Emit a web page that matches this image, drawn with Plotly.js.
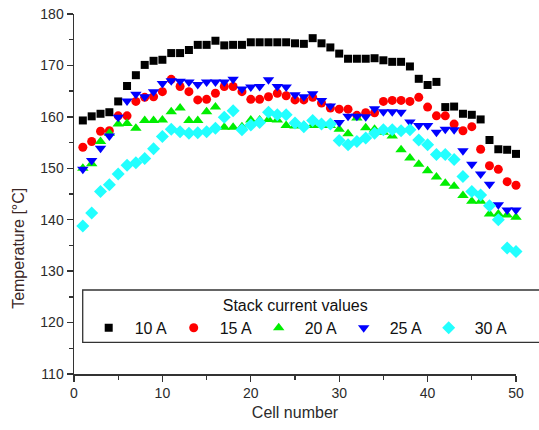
<!DOCTYPE html>
<html>
<head>
<meta charset="utf-8">
<script src="https://cdn.plot.ly/plotly-3.0.1.min.js"></script>
<style>
  html, body { margin: 0; padding: 0; background: #fff; }
  #chart { width: 539px; height: 430px; }
</style>
</head>
<body>
<div id="chart"></div>
<script>
// Cell temperatures along the stack for five current settings
const cells = Array.from({length: 50}, (_, i) => i + 1);

const seriesNames = ['10 A', '15 A', '20 A', '25 A', '30 A'];

const temp10A = [159.3, 160.1, 160.6, 160.9, 163.0, 166.0, 168.1, 170.1, 170.9, 171.1,
                 172.4, 172.4, 173.0, 174.0, 174.0, 174.8, 173.9, 174.0, 174.0, 174.5,
                 174.5, 174.5, 174.5, 174.5, 174.3, 174.2, 175.3, 174.3, 173.5, 172.3,
                 171.3, 171.3, 171.3, 171.4, 171.0, 170.7, 170.7, 169.8, 167.4, 166.2,
                 166.8, 161.9, 162.0, 160.6, 160.4, 159.5, 155.5, 153.7, 153.6, 152.8];

const temp15A = [154.1, 155.2, 157.2, 157.3, 160.2, 160.2, 163.0, 163.8, 163.9, 164.9,
                 167.3, 165.9, 164.9, 163.3, 163.4, 164.6, 165.9, 165.9, 164.9, 163.4,
                 163.4, 163.9, 164.6, 164.1, 163.3, 163.3, 163.8, 162.7, 161.7, 161.5,
                 161.5, 160.3, 160.8, 160.8, 163.0, 163.2, 163.2, 163.0, 163.8, 161.9,
                 160.2, 160.2, 158.6, 157.3, 158.1, 153.7, 150.5, 149.8, 147.4, 146.7];

const temp20A = [150.0, 150.9, 155.2, 156.8, 158.6, 158.7, 157.8, 159.3, 159.3, 159.4,
                 161.0, 161.7, 159.3, 159.3, 161.0, 161.9, 158.0, 158.0, 158.1, 159.4,
                 159.4, 159.5, 159.4, 158.3, 158.2, 158.3, 158.3, 158.3, 158.3, 157.6,
                 156.7, 159.8, 157.9, 157.6, 157.0, 156.3, 153.6, 152.0, 150.8, 149.5,
                 148.3, 147.1, 146.5, 144.7, 143.6, 143.6, 141.1, 141.1, 140.9, 140.5];

const temp25A = [149.8, 151.5, 153.9, 156.3, 159.9, 163.1, 164.4, 163.9, 164.9, 166.5,
                 167.0, 166.9, 166.8, 166.3, 166.8, 166.8, 166.8, 167.3, 165.4, 165.8,
                 165.9, 167.2, 165.9, 165.8, 164.3, 163.9, 164.5, 163.2, 162.1, 158.9,
                 160.1, 160.1, 160.0, 161.6, 161.0, 161.0, 160.9, 159.0, 158.3, 158.3,
                 157.0, 157.6, 157.5, 153.4, 150.8, 148.9, 146.9, 142.9, 141.9, 141.9];

const temp30A = [138.8, 141.3, 145.5, 146.8, 148.9, 150.6, 151.1, 151.9, 153.8, 156.2,
                 157.6, 157.1, 156.8, 156.9, 157.1, 157.8, 159.9, 161.2, 157.5, 158.4,
                 158.9, 160.9, 160.4, 160.4, 158.8, 158.1, 159.3, 158.6, 158.6, 155.4,
                 154.6, 155.2, 155.9, 156.8, 157.5, 157.5, 157.3, 157.5, 155.5, 154.6,
                 152.7, 152.7, 151.7, 148.4, 145.5, 144.8, 142.7, 140.0, 134.5, 133.8];

const xTickVals = [0, 10, 20, 30, 40, 50];
const yTickVals = [110, 120, 130, 140, 150, 160, 170, 180];

const seriesValues = [temp10A, temp15A, temp20A, temp25A, temp30A];
const seriesColors = ['#000000', '#ff0000', '#00ee00', '#0000ff', '#22ffff'];
const seriesSymbols = ['square', 'circle', 'triangle-up', 'triangle-down', 'diamond'];
const seriesSizes = [8, 9, 10, 10, 10];

const FONT = 'Arial, "Liberation Sans", sans-serif';
const INK = '#2b2b2b';

const traces = seriesValues.map((vals, k) => ({
  type: 'scatter',
  mode: 'markers',
  name: seriesNames[k],
  x: cells,
  y: vals,
  cliponaxis: false,
  marker: { symbol: seriesSymbols[k], size: seriesSizes[k], color: seriesColors[k], line: { width: 0 } }
}));

const layout = {
  width: 539,
  height: 430,
  margin: { l: 74, r: 23, t: 14, b: 56 },
  paper_bgcolor: '#ffffff',
  plot_bgcolor: '#ffffff',
  font: { family: FONT, color: INK, size: 14 },
  showlegend: true,
  xaxis: {
    range: [0, 50],
    tickvals: xTickVals,
    ticks: 'outside', ticklen: 6, tickwidth: 1.3, tickcolor: '#333',
    minor: { dtick: 5, ticks: 'outside', ticklen: 4, tickwidth: 1.3, tickcolor: '#333' },
    showline: true, linecolor: '#333', linewidth: 1.5,
    showgrid: false, zeroline: false,
    tickfont: { family: FONT, size: 14, color: INK },
    title: { text: 'Cell number', font: { family: FONT, size: 16, color: INK }, standoff: 6 }
  },
  yaxis: {
    range: [110, 180],
    tickvals: yTickVals,
    ticks: 'outside', ticklen: 6, tickwidth: 1.3, tickcolor: '#333',
    minor: { dtick: 5, ticks: 'outside', ticklen: 4, tickwidth: 1.3, tickcolor: '#333' },
    showline: true, linecolor: '#333', linewidth: 1.5,
    showgrid: false, zeroline: false,
    tickfont: { family: FONT, size: 14, color: INK }
  },
  annotations: [{
    text: 'Temperature [°C]',
    xref: 'paper', yref: 'paper',
    x: -0.127, y: 0.35,
    xanchor: 'center', yanchor: 'middle',
    textangle: -90, showarrow: false,
    font: { family: FONT, size: 16, color: '#3a2626' }
  }],
  shapes: [{
    type: 'rect', xref: 'paper', yref: 'paper', layer: 'below',
    x0: 0.0197, x1: 1.12, y0: 0.088, y1: 0.2333,
    line: { color: '#333', width: 1.3 }, fillcolor: '#ffffff'
  }],
  legend: {
    orientation: 'h',
    x: 0.0197, xanchor: 'left',
    y: 0.2333, yanchor: 'top',
    bgcolor: 'rgba(0,0,0,0)', borderwidth: 0,
    itemwidth: 42,
    entrywidth: 28, entrywidthmode: 'pixels',
    font: { family: FONT, size: 16, color: '#111' },
    title: { text: 'Stack current values', side: 'top center', font: { family: FONT, size: 16, color: '#111' } }
  }
};

Plotly.newPlot('chart', traces, layout, { displayModeBar: false, staticPlot: true });
</script>
</body>
</html>
